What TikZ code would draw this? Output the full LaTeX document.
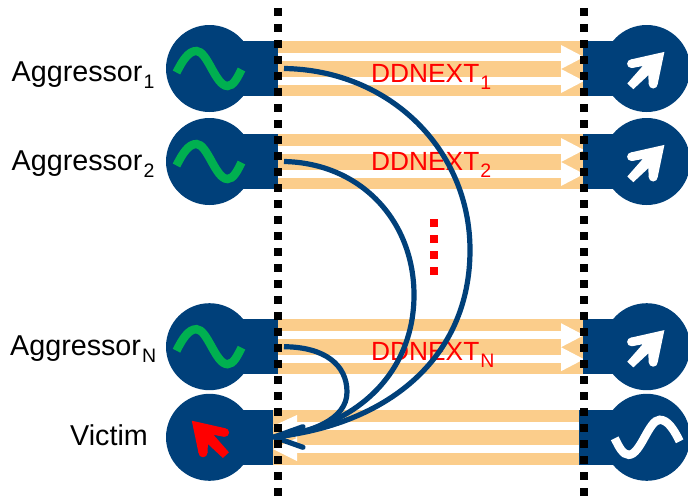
\documentclass[tikz,border=0pt]{standalone}
\usepackage{fontspec}
\setmainfont{Liberation Sans}
\definecolor{portblue}{HTML}{00407A}
\definecolor{bandorange}{HTML}{FBCD8B}
\definecolor{sinegreen}{HTML}{00B050}
\tikzset{
	portdisc/.style={circle,fill=portblue,minimum size=87pt,inner sep=0pt},
	sidelabel/.style={anchor=base west,inner sep=0pt,font=\fontsize{28.7}{30}\selectfont},
	linelabel/.style={anchor=base west,inner sep=0pt,text=red,font=\fontsize{26.3}{28}\selectfont},
	wire/.style={draw=portblue,line width=5.2pt},
	dotcol/.style={line width=8pt,dash pattern=on 8pt off 8pt},
	sinewave/.pic={\draw[line width=8.4pt] (-33,4) .. controls (-27,-8) and (-21,-17.5) .. (-13,-17.5) .. controls (-2,-17.5) and (6,17.5) .. (18,17.5) .. controls (24,17.5) and (28,9) .. (32,1);},
	recvarrow/.pic={\fill (17.7,-16.6)--(-16,-9)--(-14.5,-0.5)--(-4,-2.5)--(-19.4,15)--(-13.4,20.7)--(1.6,6.7)--(2,15.5)--(11,15.5)--cycle;
		\fill (-15.3,-4.8) circle (4.3) (6.5,15.5) circle (4.5);}
}
\newcommand{\subtxt}[2]{#1\kern1pt\raisebox{-7pt}{\fontsize{19.5}{20}\selectfont #2}}
\begin{document}
\begin{tikzpicture}[x=1pt,y=-1pt,line join=miter]
	\def\xl{278}\def\xr{583}
	\clip (0,0) rectangle (688,498);
	% aggressor rows
	\foreach \nm/\yc/\sb/\yb in {one/68.5/1/82.7,two/161.5/2/170.7,nn/346.7/N/360}{
		\fill[bandorange] (\xl,\yc-27.5) rectangle (\xr,\yc+27.5);
		\fill[white] (\xl,\yc-15.5) rectangle (561,\yc-7.5);
		\fill[white] (\xl,\yc+8.5) rectangle (561,\yc+16.5);
		\fill[white] (561,\yc-23.5)--(584,\yc-11.5)--(561,\yc+0.5)--cycle;
		\fill[white] (561,\yc+0.5)--(584,\yc+12.5)--(561,\yc+24.5)--cycle;
		\fill[portblue] (209,\yc-27.5) rectangle (\xl,\yc+27.5);
		\fill[portblue] (\xr,\yc-27.5) rectangle (646,\yc+27.5);
		\node[portdisc] (tx\nm) at (209.5,\yc) {};
		\node[portdisc] (rx\nm) at (646.7,\yc) {};
		\pic[sinegreen] at (tx\nm) {sinewave};
		\pic[white] at (rx\nm) {recvarrow};
		\node[linelabel] (ln\nm) at (371,\yb) {\subtxt{DDNEXT}{\sb}};
		\coordinate (out\nm) at (284,\yc);
	}
	% victim row
	\fill[bandorange] (273,410) rectangle (579,465);
	\fill[white] (297,422) rectangle (579,430);
	\fill[white] (297,445) rectangle (579,453);
	\fill[white] (297,415)--(273,426)--(297,438)--cycle;
	\fill[white] (297,438)--(273,449)--(297,461)--cycle;
	\fill[portblue] (209,410) rectangle (273,465);
	\fill[portblue] (579,410) rectangle (646,465);
	\node[portdisc] (txvic) at (209.5,437.3) {};
	\node[portdisc] (rxvic) at (646.7,437.3) {};
	\pic[red,xscale=-1] at (txvic) {recvarrow};
	\pic[white,xscale=-1] at (rxvic) {sinewave};
	% labels
	\node[sidelabel] (agone) at (11.5,81.7) {\subtxt{Aggressor}{1}};
	\node[sidelabel] (agtwo) at (11.5,170) {\subtxt{Aggressor}{2}};
	\node[sidelabel] (agnn) at (10,355) {\subtxt{Aggressor}{N}};
	\node[sidelabel] (agvic) at (70,445) {Victim};
	% coupling paths
	\coordinate (vicin) at (274,437);
	\coordinate (barbup) at (303,426.7);
	\coordinate (barbdn) at (303,447.3);
	\draw[wire] (outone) .. controls (390,70) and (470,150) .. (470,250) .. controls (470,360) and (385,425) .. (vicin);
	\draw[wire] (outtwo) .. controls (360,163) and (414,220) .. (414,295) .. controls (414,370) and (360,427) .. (vicin);
	\draw[wire] (outnn) .. controls (325,347) and (347,365) .. (347,392) .. controls (347,420) and (310,433) .. (vicin);
	\draw[wire,line cap=round] (barbup)--(vicin)--(barbdn);
	% dotted columns
	\draw[black,dotcol] (277.5,8)--(277.5,498);
	\draw[black,dotcol] (584,8)--(584,498);
	\draw[red,dotcol] (434,219)--(434,275);
\end{tikzpicture}
\end{document}
